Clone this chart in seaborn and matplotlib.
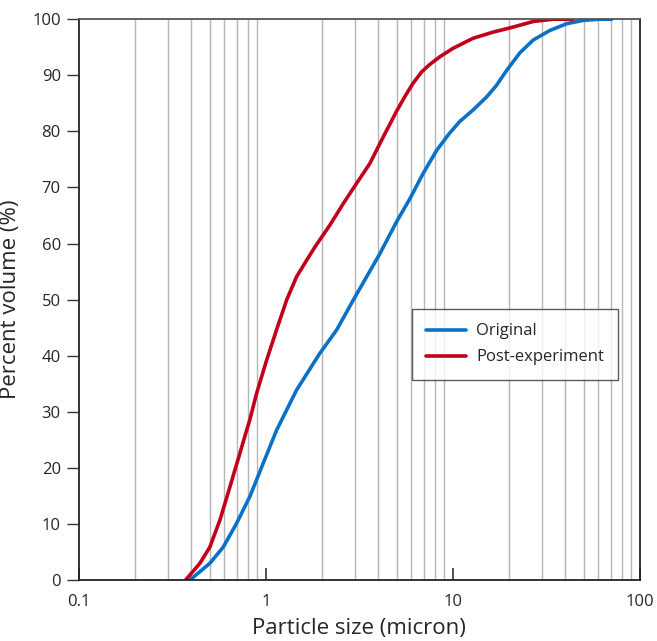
import numpy as np
import pandas as pd
import matplotlib
matplotlib.use("Agg")
import matplotlib.pyplot as plt
import seaborn as sns
from matplotlib.ticker import LogLocator, FixedLocator, NullFormatter

# Data (particle size in micron, cumulative percent volume)
orig_size = [0.392, 0.502, 0.592, 0.697, 0.821, 0.967, 1.14, 1.46, 1.94, 2.39, 2.93,
             3.46, 4.07, 5.0, 5.89, 6.93, 8.18, 9.5, 10.9, 12.8, 15.1, 17.1, 19.4,
             22.8, 26.9, 33.0, 40.6, 49.8, 61.1, 70.6]
orig_pct = [0.0, 3.0, 5.9, 10.1, 14.9, 20.8, 26.7, 33.9, 40.4, 44.6, 49.9,
            54.1, 58.2, 63.9, 68.0, 72.5, 76.6, 79.5, 81.8, 83.8, 86.1, 88.2, 90.9,
            94.0, 96.3, 98.0, 99.2, 99.8, 100.0, 100.0]

post_size = [0.372, 0.444, 0.502, 0.568, 0.642, 0.726, 0.789, 0.821, 0.892, 1.009,
             1.14, 1.29, 1.46, 1.65, 1.83, 2.2, 2.59, 3.05, 3.6, 4.24, 5.0, 5.53,
             6.1, 6.8, 7.5, 8.51, 10.0, 12.8, 16.4, 21.0, 26.9, 34.4, 43.9]
post_pct = [0.0, 3.0, 5.9, 10.7, 16.6, 22.6, 26.7, 28.6, 33.3, 39.2,
            44.6, 49.9, 54.1, 57.0, 59.4, 63.3, 67.1, 70.7, 74.3, 79.0, 83.6, 86.2,
            88.5, 90.6, 91.9, 93.3, 94.8, 96.6, 97.7, 98.6, 99.6, 100.0, 100.0]

series_names = ["Original", "Post-experiment"]
series_colors = ["#0A72C6", "#C2001B"]
x_tick_values = [0.1, 1, 10, 100]
x_tick_labels = ["0.1", "1", "10", "100"]
y_tick_values = list(range(0, 101, 10))

df = pd.concat([
    pd.DataFrame({"size": orig_size, "pct": orig_pct, "series": series_names[0]}),
    pd.DataFrame({"size": post_size, "pct": post_pct, "series": series_names[1]}),
], ignore_index=True)

sns.set_theme(style="white")
plt.rcParams["font.family"] = ["Open Sans", "DejaVu Sans"]
plt.rcParams["lines.solid_joinstyle"] = "round"
plt.rcParams["lines.solid_capstyle"] = "round"

fig = plt.figure(figsize=(6.57, 6.41), dpi=100)
ax = fig.add_axes([0.120, 0.095, 0.854, 0.875])

sns.lineplot(data=df, x="size", y="pct", hue="series", hue_order=series_names,
             palette=series_colors, linewidth=2.6, ax=ax, sort=False,
             estimator=None)

ax.set_xscale("log")
ax.set_xlim(0.1, 100)
ax.set_ylim(0, 100)

ax.xaxis.set_major_locator(FixedLocator(x_tick_values))
ax.set_xticklabels(x_tick_labels)
ax.xaxis.set_minor_locator(LogLocator(base=10, subs=np.arange(2, 10)))
ax.xaxis.set_minor_formatter(NullFormatter())
ax.set_yticks(y_tick_values)

ax.grid(False)
ax.grid(True, which="minor", axis="x", color="#b5b5b5", linewidth=1.0)
ax.set_axisbelow(True)

ax.tick_params(axis="x", which="major", direction="in", length=9, width=1.2,
               color="#333333", labelsize=12, pad=10, bottom=True)
ax.tick_params(axis="x", which="minor", length=0)
ax.tick_params(axis="y", which="major", direction="out", length=9, width=1.0,
               color="#333333", labelsize=12, pad=4, left=True)

for side in ["left", "bottom", "right", "top"]:
    ax.spines[side].set_color("#222222")
    ax.spines[side].set_linewidth(1.3)
ax.spines["top"].set_color("#555555")

ax.set_xlabel("Particle size (micron)", fontsize=16, labelpad=6)
ax.set_ylabel("Percent volume (%)", fontsize=16, labelpad=8)

leg = ax.legend(loc="upper left", bbox_to_anchor=(0.594, 0.483), frameon=True,
                fancybox=False, edgecolor="#333333", fontsize=12,
                handlelength=2.4, handletextpad=0.6, borderpad=0.85,
                labelspacing=0.6, borderaxespad=0.0)
leg.get_frame().set_linewidth(1.0)
for h in leg.get_lines():
    h.set_linewidth(2.6)

fig.savefig("out.png", dpi=100)
